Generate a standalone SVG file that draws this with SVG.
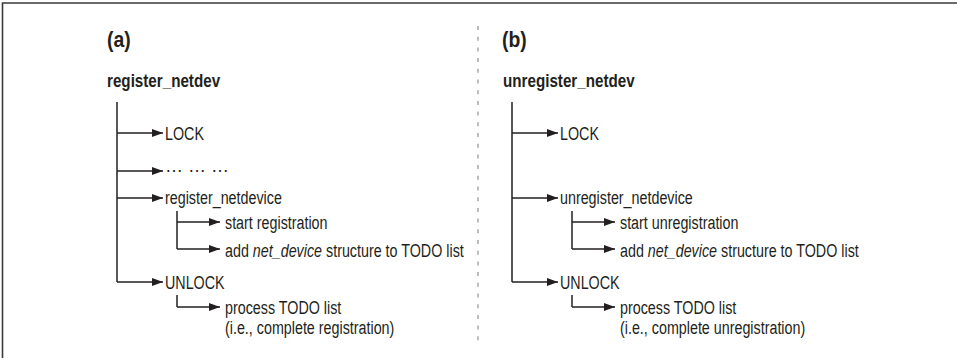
<svg xmlns="http://www.w3.org/2000/svg" width="957" height="358" viewBox="0 0 957 358">
<defs>
<marker id="ah" markerWidth="11" markerHeight="8" refX="11" refY="4" orient="auto" markerUnits="userSpaceOnUse">
<path d="M0,0 L11,4 L0,8 Z" fill="#231f20"/>
</marker>
<style>
text{font-family:"Liberation Sans",Arial,sans-serif;font-size:18px;fill:#231f20}
.b{font-weight:bold;font-size:19px}
.h{font-weight:bold;font-size:22px}
.c{fill:none;stroke:#231f20;stroke-width:1.5}
.a{fill:none;stroke:#231f20;stroke-width:1.5;marker-end:url(#ah)}
</style>
</defs>
<rect width="957" height="358" fill="#fff"/>
<g id="frame">
<path d="M2.5,358 V3 H957" fill="none" stroke="#3a3a3a" stroke-width="1.6"/>
<line x1="478" y1="26" x2="478" y2="342" stroke="#bdbdbd" stroke-width="2" stroke-dasharray="4,6.7"/>
</g>
<g id="connectors">
<path class="c" d="M117,102 V282"/>
<path class="a" d="M117,133 H163"/>
<path class="a" d="M117,171 H163"/>
<path class="a" d="M117,198 H163"/>
<path class="a" d="M117,282 H163"/>
<path class="c" d="M177,211 V249"/>
<path class="a" d="M177,222 H220"/>
<path class="a" d="M177,249 H220"/>
<path class="c" d="M177,295 V307"/>
<path class="a" d="M177,307 H220"/>
<path class="c" d="M512,102 V282"/>
<path class="a" d="M512,133 H558"/>
<path class="a" d="M512,198 H558"/>
<path class="a" d="M512,282 H558"/>
<path class="c" d="M572,211 V249"/>
<path class="a" d="M572,222 H615"/>
<path class="a" d="M572,249 H615"/>
<path class="c" d="M572,295 V307"/>
<path class="a" d="M572,307 H615"/>
</g>
<g id="panel-a">
<text class="h" transform="translate(107,47) scale(0.88,1)">(a)</text>
<g id="register_netdev"><text class="b" transform="translate(107,87) scale(0.8,1)">register_netdev</text></g>
<g id="lock-a"><text transform="translate(165,140) scale(0.795,1)">LOCK</text></g>
<g id="dots-a"><text x="165" y="172">… … …</text></g>
<g id="register_netdevice"><text transform="translate(165,203.5) scale(0.795,1)">register_netdevice</text></g>
<g id="start-reg"><text transform="translate(225,229) scale(0.795,1)">start registration</text></g>
<g id="add-a"><text transform="translate(225,256.5) scale(0.795,1)">add <tspan font-style="italic">net_device</tspan> structure to TODO list</text></g>
<g id="unlock-a"><text transform="translate(165,288.5) scale(0.795,1)">UNLOCK</text></g>
<g id="process-a"><text transform="translate(225,313.5) scale(0.795,1)">process TODO list</text><text transform="translate(225,333.5) scale(0.795,1)">(i.e., complete registration)</text></g>
</g>
<g id="panel-b">
<text class="h" transform="translate(502,47) scale(0.88,1)">(b)</text>
<g id="unregister_netdev"><text class="b" transform="translate(503,87) scale(0.8,1)">unregister_netdev</text></g>
<g id="lock-b"><text transform="translate(560,140) scale(0.795,1)">LOCK</text></g>
<g id="unregister_netdevice"><text transform="translate(560,203.5) scale(0.795,1)">unregister_netdevice</text></g>
<g id="start-unreg"><text transform="translate(620,229) scale(0.795,1)">start unregistration</text></g>
<g id="add-b"><text transform="translate(620,256.5) scale(0.795,1)">add <tspan font-style="italic">net_device</tspan> structure to TODO list</text></g>
<g id="unlock-b"><text transform="translate(560,288.5) scale(0.795,1)">UNLOCK</text></g>
<g id="process-b"><text transform="translate(620,313.5) scale(0.795,1)">process TODO list</text><text transform="translate(620,333.5) scale(0.795,1)">(i.e., complete unregistration)</text></g>
</g>
</svg>
